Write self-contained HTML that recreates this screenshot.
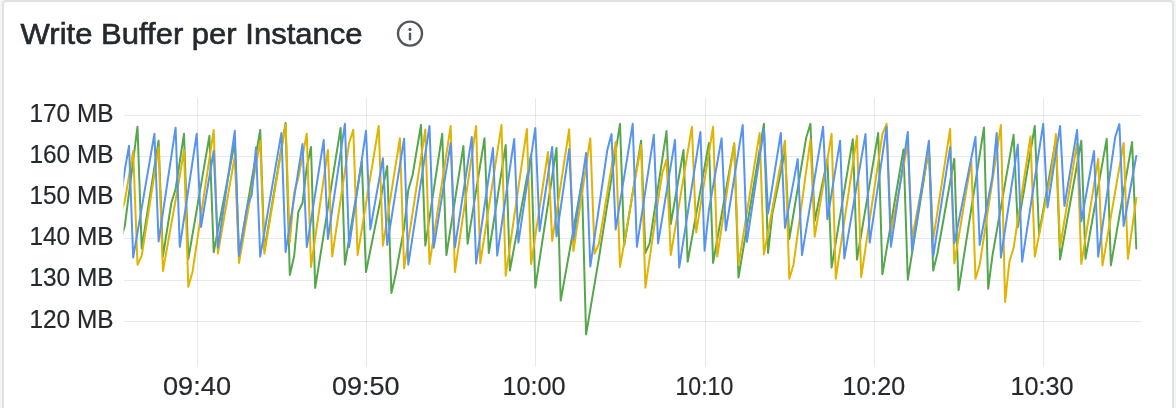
<!DOCTYPE html>
<html><head><meta charset="utf-8">
<style>
html,body{margin:0;padding:0;width:1176px;height:408px;overflow:hidden;background:#f4f5f5;}
.panel{position:absolute;left:2px;top:0px;width:1172px;height:440px;background:#fff;border:2px solid #e0e1e3;border-radius:4px;box-sizing:border-box;}
svg{position:absolute;left:0;top:0;}
.tt{font-family:"Liberation Sans",sans-serif;font-size:29.5px;fill:#24292e;stroke:#24292e;stroke-width:0.6px;}
.ax{font-family:"Liberation Sans",sans-serif;font-size:25.5px;fill:#24292e;stroke:#24292e;stroke-width:0.2px;}
</style></head><body>
<div class="panel"></div>
<svg width="1176" height="408" viewBox="0 0 1176 408">
<defs><clipPath id="plot"><rect x="123.5" y="90" width="1017.0" height="280"/></clipPath></defs>
<text class="tt" x="20.6" y="43.9" textLength="342" lengthAdjust="spacingAndGlyphs">Write Buffer per Instance</text>
<g stroke="#52575d" stroke-width="2.4" fill="none"><circle cx="410" cy="33.6" r="12"/><line x1="410" y1="33.800000000000004" x2="410" y2="39.2" stroke-linecap="round"/></g>
<circle cx="410" cy="29.400000000000002" r="1.6" fill="#52575d"/>
<g stroke="rgba(0,10,23,0.09)" stroke-width="1" shape-rendering="crispEdges">
<line x1="123.5" x2="1140.5" y1="115.5" y2="115.5"/>
<line x1="123.5" x2="1140.5" y1="156.5" y2="156.5"/>
<line x1="123.5" x2="1140.5" y1="197.5" y2="197.5"/>
<line x1="123.5" x2="1140.5" y1="238.5" y2="238.5"/>
<line x1="123.5" x2="1140.5" y1="280.5" y2="280.5"/>
<line x1="123.5" x2="1140.5" y1="321.5" y2="321.5"/>
<line y1="98" y2="366.5" x1="197.5" x2="197.5"/>
<line y1="98" y2="366.5" x1="366.5" x2="366.5"/>
<line y1="98" y2="366.5" x1="535.5" x2="535.5"/>
<line y1="98" y2="366.5" x1="705.5" x2="705.5"/>
<line y1="98" y2="366.5" x1="874.5" x2="874.5"/>
<line y1="98" y2="366.5" x1="1043.5" x2="1043.5"/>
</g>
<g class="ax" text-anchor="start">
<text x="29.5" y="121.75" textLength="84" lengthAdjust="spacingAndGlyphs">170 MB</text>
<text x="29.5" y="162.9" textLength="84" lengthAdjust="spacingAndGlyphs">160 MB</text>
<text x="29.5" y="204.1" textLength="84" lengthAdjust="spacingAndGlyphs">150 MB</text>
<text x="29.5" y="245.2" textLength="84" lengthAdjust="spacingAndGlyphs">140 MB</text>
<text x="29.5" y="286.4" textLength="84" lengthAdjust="spacingAndGlyphs">130 MB</text>
<text x="29.5" y="327.5" textLength="84" lengthAdjust="spacingAndGlyphs">120 MB</text>
</g>
<g class="ax" text-anchor="start">
<text x="163" y="394.85" textLength="68" lengthAdjust="spacingAndGlyphs">09:40</text>
<text x="332" y="394.85" textLength="67.5" lengthAdjust="spacingAndGlyphs">09:50</text>
<text x="502.5" y="394.85" textLength="63" lengthAdjust="spacingAndGlyphs">10:00</text>
<text x="675.5" y="394.85" textLength="57.7" lengthAdjust="spacingAndGlyphs">10:10</text>
<text x="842.5" y="394.85" textLength="62.7" lengthAdjust="spacingAndGlyphs">10:20</text>
<text x="1010.5" y="394.85" textLength="63" lengthAdjust="spacingAndGlyphs">10:30</text>
</g>
<g clip-path="url(#plot)" fill="none" stroke-width="2" stroke-linejoin="round" stroke-linecap="round">
<path d="M120.5,240.0 L124.8,226.0 L137.5,126.7 L141.7,248.5 L158.6,140.7 L162.9,256.6 L171.3,203.0 L175.6,189.0 L184.0,133.8 L188.3,259.1 L209.4,135.8 L213.7,252.2 L234.8,142.0 L239.0,255.0 L260.2,129.9 L264.4,250.0 L285.6,123.0 L289.8,275.0 L294.1,256.6 L298.3,212.0 L302.5,203.0 L306.8,167.0 L311.0,147.0 L315.2,287.9 L340.6,127.9 L344.9,264.7 L361.8,161.3 L366.0,272.1 L387.2,166.1 L391.4,293.1 L395.6,274.7 L404.1,228.0 L408.3,190.0 L412.6,175.0 L421.0,124.9 L425.3,245.6 L442.2,133.8 L446.4,255.1 L463.4,146.1 L467.6,243.8 L484.5,138.2 L488.8,253.0 L505.7,145.1 L509.9,270.6 L531.1,154.6 L535.3,287.6 L556.5,148.0 L560.7,300.6 L581.9,182.0 L586.1,334.4 L598.8,258.8 L620.0,123.8 L624.2,245.6 L641.1,140.7 L645.4,252.9 L649.6,243.4 L666.5,131.1 L670.8,224.0 L683.5,150.0 L687.7,261.8 L708.9,142.9 L713.1,262.9 L734.2,143.7 L738.5,277.6 L763.9,123.8 L768.1,252.9 L772.3,214.0 L785.0,151.0 L789.3,239.0 L806.2,137.7 L810.4,123.8 L814.7,221.0 L827.4,159.1 L831.6,267.6 L852.8,139.2 L857.0,259.6 L878.2,132.9 L882.4,274.3 L903.5,149.5 L907.8,279.7 L928.9,148.0 L933.2,270.6 L937.4,253.7 L954.3,158.8 L958.6,290.1 L984.0,127.4 L988.2,288.7 L992.4,255.9 L1013.6,134.8 L1017.8,227.2 L1034.8,126.0 L1039.0,234.0 L1055.9,140.0 L1060.1,259.6 L1081.3,140.7 L1085.5,258.8 L1106.7,138.8 L1110.9,265.4 L1132.1,142.1 L1136.3,248.5" stroke="#56A64B"/>
<path d="M120.5,215.0 L124.8,201.0 L133.2,151.0 L137.5,264.7 L141.7,255.9 L158.6,147.3 L162.9,271.0 L175.6,200.0 L179.8,176.0 L184.0,150.0 L188.3,286.8 L192.5,272.0 L213.7,130.0 L217.9,253.7 L234.8,156.1 L239.0,263.0 L260.2,140.7 L264.4,253.7 L285.6,124.5 L289.8,242.6 L294.1,193.0 L298.3,178.0 L306.8,133.8 L311.0,266.9 L327.9,149.9 L332.2,256.6 L349.1,142.9 L353.3,129.9 L357.6,255.1 L378.7,126.0 L382.9,245.6 L399.9,138.2 L404.1,268.4 L425.3,129.6 L429.5,264.0 L450.7,126.0 L454.9,272.1 L476.1,126.0 L480.3,263.2 L501.5,124.9 L505.7,275.7 L526.9,128.9 L531.1,264.0 L548.0,152.0 L552.2,240.9 L569.2,129.2 L573.4,251.2 L590.3,138.2 L594.6,253.7 L598.8,244.1 L615.7,142.1 L620.0,266.9 L641.1,145.1 L645.4,287.6 L658.1,200.0 L662.3,173.0 L666.5,159.8 L670.8,255.1 L691.9,126.7 L696.2,232.4 L713.1,126.7 L717.3,256.6 L734.2,142.9 L738.5,265.0 L759.6,132.9 L763.9,254.4 L785.0,140.7 L789.3,278.7 L793.5,264.7 L810.4,139.9 L814.7,236.8 L831.6,133.8 L835.8,278.7 L857.0,135.8 L861.2,277.2 L882.4,134.1 L886.6,123.8 L890.9,233.0 L907.8,143.6 L912.0,239.0 L928.9,150.0 L933.2,239.7 L950.1,128.9 L954.3,263.5 L971.3,160.5 L975.5,278.7 L979.7,264.7 L1000.9,124.9 L1005.1,301.9 L1009.4,261.8 L1013.6,247.8 L1030.5,136.3 L1034.8,256.6 L1047.5,192.0 L1051.7,170.0 L1055.9,134.1 L1060.1,247.1 L1077.1,142.9 L1081.3,264.0 L1098.2,158.8 L1102.5,265.4 L1123.6,142.9 L1127.9,258.8 L1136.3,198.0" stroke="#E0B400"/>
<path d="M120.5,200.0 L124.8,170.0 L129.0,145.8 L133.2,257.6 L154.4,133.8 L158.6,241.5 L175.6,127.7 L179.8,246.8 L196.7,133.8 L201.0,227.0 L213.7,151.0 L217.9,247.8 L234.8,130.8 L239.0,255.9 L247.5,205.0 L251.7,195.0 L256.0,147.3 L260.2,256.6 L281.4,132.9 L285.6,252.2 L302.5,144.1 L306.8,247.1 L323.7,139.9 L327.9,239.0 L344.9,123.8 L349.1,247.1 L366.0,130.8 L370.3,229.4 L382.9,158.3 L387.2,244.9 L404.1,138.8 L408.3,264.7 L429.5,126.0 L433.7,247.8 L450.7,142.9 L454.9,247.4 L471.8,137.0 L476.1,263.5 L493.0,148.0 L497.2,255.6 L514.2,138.9 L518.4,242.6 L535.3,127.9 L539.6,231.2 L552.2,147.0 L556.5,236.5 L569.2,149.1 L573.4,239.7 L586.1,152.9 L590.3,266.5 L603.0,180.0 L607.3,150.0 L611.5,134.1 L615.7,229.4 L632.7,123.8 L636.9,246.8 L653.8,134.8 L658.1,243.4 L675.0,139.9 L679.2,267.6 L700.4,131.9 L704.6,250.7 L708.9,210.0 L721.6,138.2 L725.8,230.6 L742.7,124.9 L746.9,241.9 L763.9,128.9 L768.1,213.4 L780.8,132.9 L785.0,227.9 L797.7,159.1 L802.0,255.1 L823.1,126.7 L827.4,219.3 L840.1,140.7 L844.3,258.5 L865.5,134.1 L869.7,242.6 L886.6,126.7 L890.9,246.8 L907.8,131.9 L912.0,251.5 L928.9,140.7 L933.2,256.6 L950.1,147.3 L954.3,243.4 L975.5,137.0 L979.7,244.9 L992.4,177.0 L996.7,132.9 L1000.9,257.6 L1017.8,144.6 L1022.1,261.8 L1043.2,123.8 L1047.5,207.5 L1060.1,126.0 L1064.4,206.0 L1077.1,129.9 L1081.3,221.5 L1094.0,151.0 L1098.2,256.6 L1115.2,137.0 L1119.4,124.1 L1123.6,226.0 L1136.3,156.0" stroke="#5794F2"/>
</g>
</svg>
</body></html>
